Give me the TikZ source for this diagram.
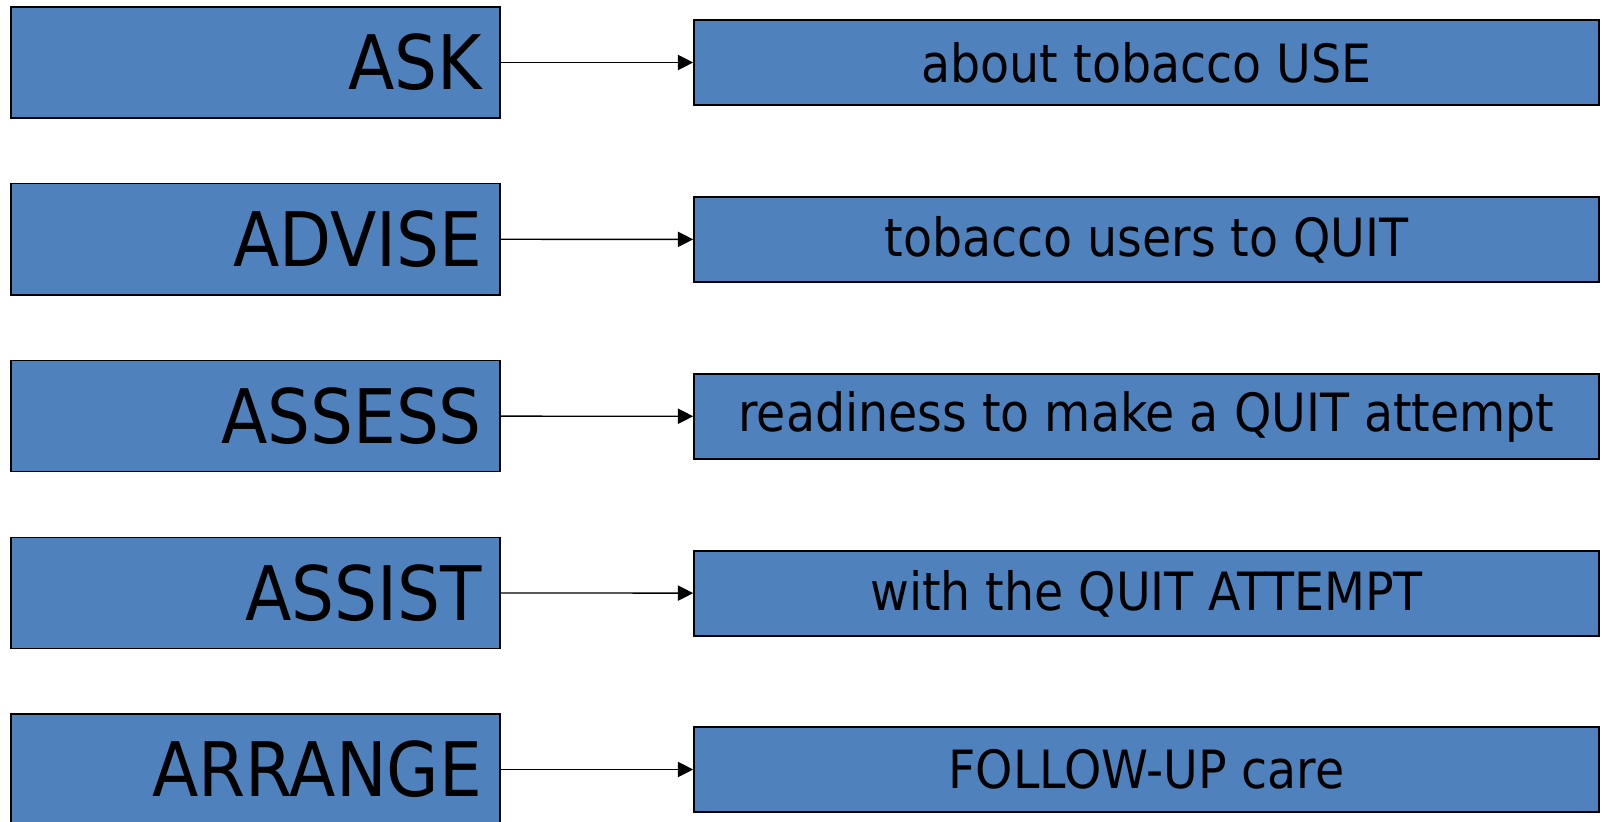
\documentclass[tikz,border=0pt]{standalone}
\usepackage{fontspec}
\setmainfont{DejaVu Sans Condensed}
\usetikzlibrary{arrows.meta}
\definecolor{blau}{HTML}{4F81BD}
\tikzset{
  schritt/.style={draw=black,fill=blau,line width=1.05pt,minimum height=2.775cm,
    inner xsep=0.45cm,text width=11.325cm,align=right,font=\fontsize{53.5}{60}\selectfont},
  inhalt/.style={draw=black,fill=blau,line width=1.05pt,minimum height=2.125cm,
    minimum width=22.625cm,font=\fontsize{37.5}{44}\selectfont},
  pfeil/.style={-{Triangle[length=3.8mm,width=3.8mm]},black,line width=0.95pt},
}
\begin{document}
\begin{tikzpicture}[x=0.025cm,y=-0.025cm]
  \useasboundingbox (0,0) rectangle (1602,821);
  \node[schritt] (ask) at (255.5,62.5) {ASK};
  \node[schritt] (advise) at (255.5,239.25) {ADVISE};
  \node[schritt] (assess) at (255.5,416) {ASSESS};
  \node[schritt] (assist) at (255.5,592.75) {ASSIST};
  \node[schritt] (arrange) at (255.5,769.5) {ARRANGE};
  \node[inhalt] (use) at (1146.5,62.5) {about tobacco USE};
  \node[inhalt] (quit) at (1146.5,239.5) {tobacco users to QUIT};
  \node[inhalt] (ready) at (1146.5,416.5) {readiness to make a QUIT attempt};
  \node[inhalt] (attempt) at (1146.5,593.5) {with the QUIT ATTEMPT};
  \node[inhalt] (follow) at (1146.5,769.5) {FOLLOW-UP care};
  \draw[pfeil] (ask) -- (use);
  \draw[pfeil] (advise) -- (quit);
  \draw[pfeil] (assess) -- (ready);
  \draw[pfeil] (assist) -- (attempt);
  \draw[pfeil] (arrange) -- (follow);
\end{tikzpicture}
\end{document}
